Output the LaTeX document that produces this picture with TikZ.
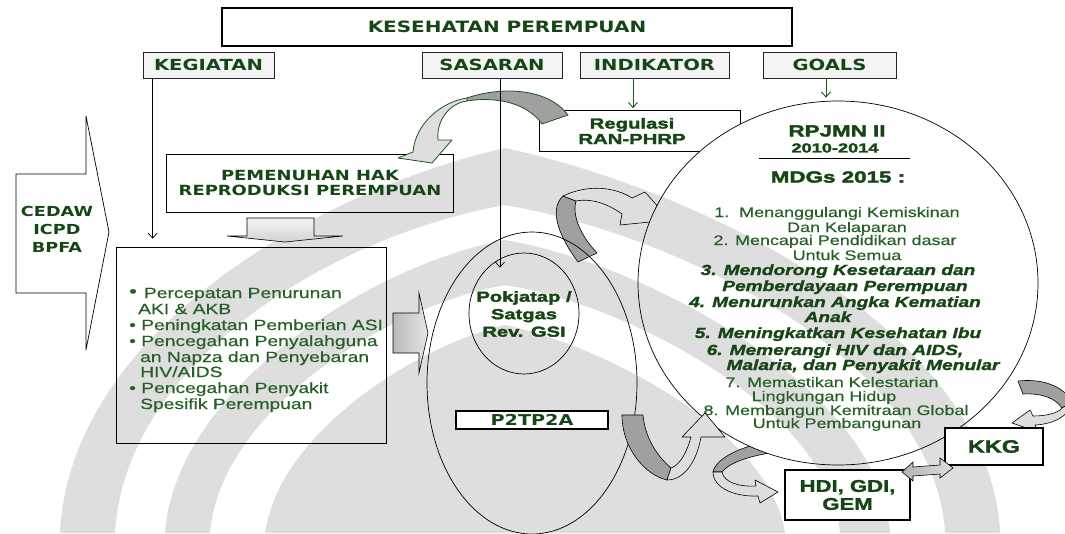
\documentclass[tikz,border=0pt]{standalone}
\usepackage{fontspec}
\setmainfont{Liberation Sans}
\newfontfamily\rg{Liberation Sans}[FakeStretch=1.3, FakeBold=0.4]
\newfontfamily\rgbi{Liberation Sans Bold Italic}[FakeStretch=1.3, FakeBold=1.5]
\newfontfamily\rgb{Liberation Sans Bold}[FakeStretch=1.3, FakeBold=1.5]
\newfontfamily\bd{Liberation Sans Bold}[FakeStretch=1.4, FakeBold=2.5]
\newfontfamily\hv{DejaVu Sans Bold}[FakeStretch=1.28]
\usetikzlibrary{arrows.meta,calc,shapes.geometric}
\newcommand\fsz[2]{\fontsize{#1}{#2}\selectfont}

\definecolor{txtg}{RGB}{22,70,22}
\definecolor{txtl}{RGB}{38,96,38}
\definecolor{lineg}{RGB}{30,85,30}
\definecolor{ribdark}{RGB}{160,160,160}
\definecolor{riblight}{RGB}{222,222,222}
\definecolor{hdfill}{RGB}{244,244,244}
\definecolor{emblem}{RGB}{222,222,222}

\tikzset{
  heading/.style={draw=black!85, line width=0.7pt, fill=hdfill, minimum height=26pt,
    inner sep=0pt, text=txtg, font=\hv\fsz{15.3}{16}},
  bigbox/.style={draw, line width=1.7pt, fill=white, inner sep=0pt, text=txtg, align=center},
  plainbox/.style={draw, line width=0.7pt, inner sep=0pt},
  btext/.style={text=txtg, font=\bd\fsz{14.5}{15.5}, align=center, inner sep=0pt},
  vline/.style={draw, line width=0.7pt, -{Straight Barb[length=5pt,width=9pt]}},
  gline/.style={draw=lineg, line width=0.9pt, -{Straight Barb[length=5pt,width=9pt]}},
  blockarrow/.style={draw, line width=0.6pt},
  ribA/.style={draw=lineg, line width=0.8pt, line join=round},
  ribB/.style={draw=black, line width=0.6pt, line join=round},
  mreg/.style={anchor=base, inner sep=0pt, text=txtl, font=\rg\fsz{13.8}{14}},
  mbold/.style={anchor=base, inner sep=0pt, text=txtg, font=\rgbi\fsz{14.7}{15}},
  bitem/.style={anchor=base west, inner sep=0pt, text=txtl, font=\rg\fsz{14.8}{15}},
  oval/.style={ellipse, draw, line width=0.7pt, inner sep=0pt},
}

\begin{document}
\begin{tikzpicture}[x=1pt,y=-1pt]
\useasboundingbox (0,0) rectangle (1065,533);
\fill[white] (0,0) rectangle (1065,533);

% pale emblem in the background
\fill[emblem] (60,533) .. controls (70,330) and (320,190) .. (505,148)
  .. controls (700,190) and (990,330) .. (1000,533) -- (945,533)
  .. controls (935,360) and (680,235) .. (505,205)
  .. controls (335,235) and (125,360) .. (115,533) -- cycle;
\fill[emblem] (165,533) .. controls (175,390) and (370,265) .. (505,240)
  .. controls (650,265) and (880,390) .. (890,533) -- (840,533)
  .. controls (830,410) and (630,305) .. (505,285)
  .. controls (390,305) and (220,410) .. (210,533) -- cycle;
\fill[emblem] (265,533) .. controls (280,430) and (420,345) .. (505,325)
  .. controls (600,345) and (770,430) .. (785,533) -- cycle;

% framework arrow on the left
\draw[line width=0.7pt, fill=white] (16,174) -- (86,174) -- (86,116) -- (109,232)
  -- (86,350) -- (86,293) -- (16,293) -- cycle;
\node[btext, font=\hv\fsz{13.8}{18}] (cedaw) at (57,229) {CEDAW\\ICPD\\BPFA};

% title and column headings
\node[bigbox, minimum width=570pt, minimum height=38pt, font=\hv\fsz{15.6}{16}] (title) at (507,27) {KESEHATAN PEREMPUAN};
\node[heading, minimum width=131pt] (keg) at (208.5,65) {KEGIATAN};
\node[heading, minimum width=140pt] (sas) at (492,65) {SASARAN};
\node[heading, minimum width=149pt] (ind) at (654.5,65) {INDIKATOR};
\node[heading, minimum width=133pt] (goal) at (829.5,65) {GOALS};

% shapes that pass behind the goals circle
\begin{scope}[even odd rule]
  \clip (0,0) rectangle (1065,533) (838,283) ellipse [x radius=200, y radius=182];
  \node[plainbox, minimum width=201pt, minimum height=41pt] (reg) at (639.5,130.5) {};
  % curved arrow from the ovals up to the goals
  \filldraw[ribB, fill=ribdark] (578,262) .. controls (560,238) and (548,210) .. (563,196)
    -- (576,201) .. controls (572,215) and (580,235) .. (597,253) -- cycle;
  \filldraw[ribB, fill=riblight] (563,196) .. controls (588,184) and (615,187) .. (632,198)
    -- (645,192) -- (670,220) -- (620,225) -- (622,214)
    .. controls (608,204) and (592,198) .. (576,201) -- cycle;
  % curved arrow from the goals down to the indices
  \filldraw[ribB, fill=ribdark] (768,442) .. controls (742,446) and (716,458) .. (713,472)
    -- (722,472) .. controls (728,464) and (745,457) .. (770,453) -- cycle;
  \filldraw[ribB, fill=riblight] (713,472) .. controls (713,488) and (735,497) .. (758,496)
    -- (760,503) -- (778,492) -- (755,480) -- (756,486)
    .. controls (738,487) and (724,482) .. (722,472) -- cycle;
\end{scope}
\node[btext] (regt) at (632,131) {Regulasi\\RAN-PHRP};

% reproductive rights box
\node[plainbox, btext, draw=black, minimum width=287pt, minimum height=58pt, font=\hv\fsz{14}{15.5}] (pem) at (310,183)
  {PEMENUHAN HAK\\REPRODUKSI PEREMPUAN};

% activities box
\node[plainbox, minimum width=270pt, minimum height=196pt] (bul) at (251,345) {};
\node[bitem] (b1) at (129,298) {{\fsz{17}{17}\raisebox{1pt}{•}}\hspace{7pt}Percepatan Penurunan};
\node[bitem] (b2) at (138,314) {AKI \& AKB};
\node[bitem] (b3) at (129,330) {• Peningkatan Pemberian ASI};
\node[bitem] (b4) at (129,346) {• Pencegahan Penyalahguna};
\node[bitem] (b5) at (140,362) {an Napza dan Penyebaran};
\node[bitem] (b6) at (140,377) {HIV/AIDS};
\node[bitem] (b7) at (129,393) {• Pencegahan Penyakit};
\node[bitem] (b8) at (140,409) {Spesifik Perempuan};

% block arrows
\draw[blockarrow, top color=gray!8, bottom color=gray!35] (247,218) -- (314,218) -- (314,236) -- (343,236)
  -- (285,242) -- (227,236) -- (247,236) -- cycle;
\draw[blockarrow, left color=gray!55, right color=gray!20] (393,313) -- (419,313) -- (419,293)
  -- (428,333) -- (419,373) -- (419,353) -- (393,353) -- cycle;

% target group ovals
\node[oval, minimum width=210pt, minimum height=302pt] (p2e) at (532,383) {};
\node[oval, minimum width=110pt, minimum height=121pt] (pok) at (524,313.5) {};
\node[btext, font=\bd\fsz{14.4}{17.5}] (pokt) at (524,314) {Pokjatap /\\Satgas\\Rev. GSI};
\node[bigbox, minimum width=152pt, minimum height=18pt, font=\hv\fsz{15}{16}] (p2) at (532,420) {P2TP2A};

% curved arrow from the regulation to the rights box
\filldraw[ribA, fill=ribdark] (467,98) .. controls (495,88) and (545,85) .. (568,115)
  -- (542,124) .. controls (525,100) and (490,97) .. (467,101) -- cycle;
\filldraw[ribA, fill=riblight] (467,98) .. controls (440,102) and (415,125) .. (413,152)
  -- (398,158) -- (432,163) -- (452,140) -- (438,140)
  .. controls (436,120) and (450,103) .. (467,101) -- cycle;

% connectors from the headings
\draw[vline] ($(keg.south west)+(10,0)$) -- ($(bul.north west)+(37,-8)$);
\draw[vline] ($(sas.south)+(8,0)$) -- ($(pok.north)+(-24,15)$);
\draw[gline] ($(ind.south)+(-21.5,0)$) -- ($(reg.north)+(-6.5,-1.5)$);

% goals circle
\node[oval, minimum width=400pt, minimum height=364pt] (mdg) at (838,283) {};
\draw[gline] ($(goal.south)+(-3.5,0)$) -- ($(mdg.north)+(-12,-3)$);
\node[btext, font=\bd\fsz{16}{16}] (rpj) at (837,131) {RPJMN II};
\node[btext, font=\bd\fsz{13}{13}] (yrs) at (835,148) {2010-2014};
\draw[line width=1pt] (759,158) -- (910,158);
\node[btext, font=\bd\fsz{16}{16}] (mdgt) at (838,177) {MDGs 2015 :};

\node[mreg]  (m1)  at (837,217) {1.\ \ Menanggulangi Kemiskinan};
\node[mreg]  (m2)  at (847,232) {Dan Kelaparan};
\node[mreg]  (m3)  at (835,245) {2. Mencapai Pendidikan dasar};
\node[mreg]  (m4)  at (847,260) {Untuk Semua};
\node[mbold] (m5)  at (838,275) {3. Mendorong Kesetaraan dan};
\node[mbold] (m6)  at (845,291) {Pemberdayaan Perempuan};
\node[mbold] (m7)  at (835,307) {4. Menurunkan Angka Kematian};
\node[mbold] (m8)  at (828,322) {Anak};
\node[mbold] (m9)  at (838,338) {5. Meningkatkan Kesehatan Ibu};
\node[mbold] (m10) at (835,355) {6. Memerangi HIV dan AIDS,};
\node[mbold] (m11) at (863,370) {Malaria, dan Penyakit Menular};
\node[mreg]  (m12) at (832,387) {7. Memastikan Kelestarian};
\node[mreg]  (m13) at (824,401) {Lingkungan Hidup};
\node[mreg]  (m14) at (836,415) {8. Membangun Kemitraan Global};
\node[mreg]  (m15) at (837,428) {Untuk Pembangunan};

% U-turn arrow beside the P2TP2A oval
\filldraw[ribB, fill=ribdark] (622,415) .. controls (622,448) and (645,475) .. (667,480)
  -- (671,468) .. controls (656,455) and (645,437) .. (643,415) -- cycle;
\filldraw[ribB, fill=riblight] (667,480) .. controls (685,480) and (697,460) .. (701,437)
  -- (725,437) -- (705,413) -- (682,437) -- (691,437)
  .. controls (687,452) and (680,465) .. (671,468) -- cycle;

% curved arrow from the goals round to KKG
\filldraw[ribB, fill=ribdark] (1018,381) .. controls (1045,378) and (1065,388) .. (1072,402)
  -- (1062,408) .. controls (1055,398) and (1042,393) .. (1023,394) -- cycle;
\filldraw[ribB, fill=riblight] (1072,402) .. controls (1070,415) and (1055,424) .. (1035,425)
  -- (1038,432) -- (1012,423) -- (1030,410) -- (1033,416)
  .. controls (1047,416) and (1058,413) .. (1062,408) -- cycle;

% index boxes
\node[bigbox, minimum width=125pt, minimum height=50pt, font=\rgb\fsz{17}{18}] (hdi) at (847.5,495) {HDI, GDI,\\GEM};
\node[bigbox, minimum width=98pt, minimum height=37pt, font=\rgb\fsz{18}{18}] (kkg) at (994,446.5) {KKG};

% double arrow between the index boxes
\draw[blockarrow, left color=gray!60, right color=gray!25] (902,472) -- (913,462) -- (913,467) -- (940,465)
  -- (940,458) -- (953,468) -- (940,478) -- (940,474) -- (913,476) -- (913,481) -- cycle;
\end{tikzpicture}
\end{document}
